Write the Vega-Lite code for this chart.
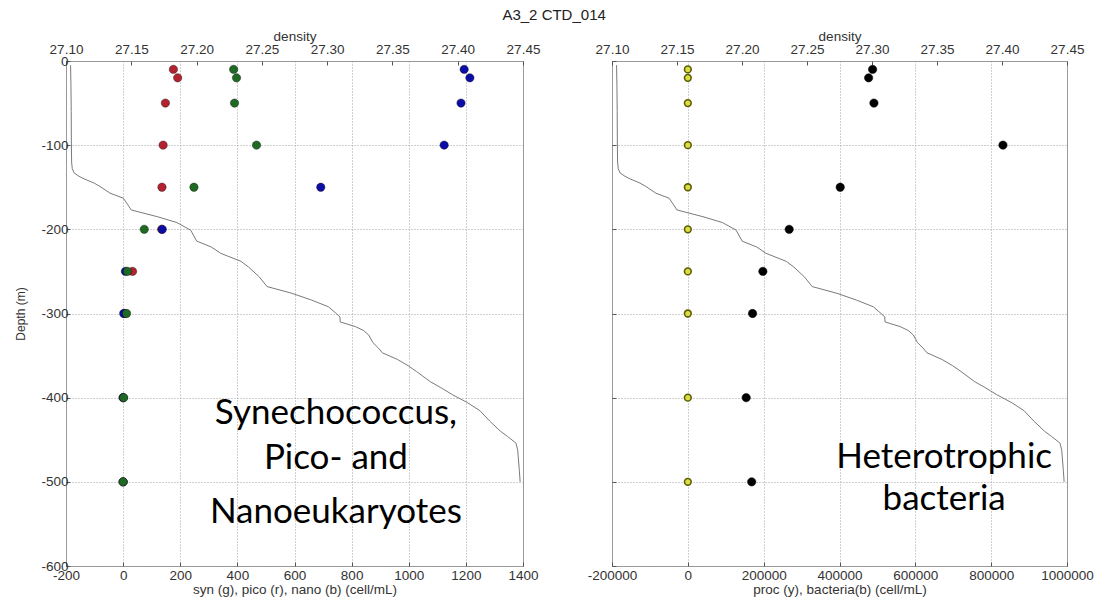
{
  "$schema": "https://vega.github.io/schema/vega-lite/v6.json",
  "background": "white",
  "padding": {"left": 14, "top": 7, "right": 5, "bottom": 5},
  "title": {"text": "A3_2 CTD_014", "font": "Liberation Sans", "fontSize": 15, "fontWeight": "normal", "color": "#222", "anchor": "middle", "offset": 6},
  "bounds": "flush",
  "spacing": 89,
  "resolve": {"scale": {"fill": "independent", "stroke": "independent", "size": "independent", "strokeWidth": "independent"}},
  "config": {
    "view": {"stroke": "#9a9a9a", "strokeWidth": 1},
    "axis": {
      "labelFont": "Liberation Sans", "labelFontSize": 13.5, "labelColor": "#333",
      "titleFont": "Liberation Sans", "titleFontSize": 13.5, "titleFontWeight": "normal", "titleColor": "#333",
      "domain": false, "gridColor": "#9a9a9a", "gridDash": [1, 2], "gridOpacity": 0.9,
      "tickColor": "#555", "tickSize": -4, "labelFlush": false, "labelOverlap": false
    },
    "text": {"font": "Lato"}
  },
  "datasets": {
    "density": [
      {"depth": -5, "density": 27.1035}, {"depth": -30, "density": 27.1038}, {"depth": -60, "density": 27.104},
      {"depth": -95, "density": 27.1041}, {"depth": -120, "density": 27.1043}, {"depth": -128, "density": 27.1048},
      {"depth": -133, "density": 27.1062}, {"depth": -137, "density": 27.110}, {"depth": -140, "density": 27.1138},
      {"depth": -145, "density": 27.1215}, {"depth": -149, "density": 27.126}, {"depth": -157, "density": 27.1337},
      {"depth": -163, "density": 27.1439}, {"depth": -170, "density": 27.147}, {"depth": -177, "density": 27.150},
      {"depth": -185, "density": 27.1700}, {"depth": -192, "density": 27.1850}, {"depth": -201, "density": 27.1955},
      {"depth": -214, "density": 27.2001}, {"depth": -221, "density": 27.2113}, {"depth": -228.5, "density": 27.2185},
      {"depth": -238, "density": 27.2340}, {"depth": -245, "density": 27.2400}, {"depth": -256.5, "density": 27.2480},
      {"depth": -268, "density": 27.2540}, {"depth": -276, "density": 27.2730}, {"depth": -284, "density": 27.2880},
      {"depth": -292, "density": 27.3010}, {"depth": -300, "density": 27.3070}, {"depth": -304, "density": 27.3098},
      {"depth": -310, "density": 27.3100}, {"depth": -315.5, "density": 27.3215}, {"depth": -320, "density": 27.3277},
      {"depth": -325.5, "density": 27.3318}, {"depth": -334.5, "density": 27.335}, {"depth": -341, "density": 27.3392},
      {"depth": -346.7, "density": 27.3423}, {"depth": -354.7, "density": 27.354}, {"depth": -362, "density": 27.362},
      {"depth": -369, "density": 27.3685}, {"depth": -381, "density": 27.379}, {"depth": -388, "density": 27.3870},
      {"depth": -396.5, "density": 27.3960}, {"depth": -405.5, "density": 27.4070}, {"depth": -415.5, "density": 27.4170},
      {"depth": -427.8, "density": 27.4245}, {"depth": -440, "density": 27.4328}, {"depth": -446, "density": 27.4381},
      {"depth": -454, "density": 27.4446}, {"depth": -462, "density": 27.4459}, {"depth": -486.5, "density": 27.4472},
      {"depth": -500, "density": 27.4478}
    ],
    "phyto": [
      {"group": "pico", "depth": -10, "count": 176}, {"group": "pico", "depth": -20, "count": 191},
      {"group": "pico", "depth": -50, "count": 148}, {"group": "pico", "depth": -100, "count": 140},
      {"group": "pico", "depth": -150, "count": 136}, {"group": "pico", "depth": -200, "count": 135},
      {"group": "pico", "depth": -250, "count": 33}, {"group": "pico", "depth": -300, "count": 5},
      {"group": "pico", "depth": -400, "count": 0}, {"group": "pico", "depth": -500, "count": 0},
      {"group": "nano", "depth": -10, "count": 1194}, {"group": "nano", "depth": -20, "count": 1214},
      {"group": "nano", "depth": -50, "count": 1183}, {"group": "nano", "depth": -100, "count": 1124},
      {"group": "nano", "depth": -150, "count": 692}, {"group": "nano", "depth": -200, "count": 137},
      {"group": "nano", "depth": -250, "count": 8}, {"group": "nano", "depth": -300, "count": 2},
      {"group": "nano", "depth": -400, "count": 0}, {"group": "nano", "depth": -500, "count": 0},
      {"group": "syn", "depth": -10, "count": 387}, {"group": "syn", "depth": -20, "count": 397},
      {"group": "syn", "depth": -50, "count": 390}, {"group": "syn", "depth": -100, "count": 467},
      {"group": "syn", "depth": -150, "count": 248}, {"group": "syn", "depth": -200, "count": 74},
      {"group": "syn", "depth": -250, "count": 15}, {"group": "syn", "depth": -300, "count": 12},
      {"group": "syn", "depth": -400, "count": 2}, {"group": "syn", "depth": -500, "count": 0}
    ],
    "bact": [
      {"group": "proc", "depth": -10, "count": 0}, {"group": "proc", "depth": -20, "count": 0},
      {"group": "proc", "depth": -50, "count": 0}, {"group": "proc", "depth": -100, "count": 0},
      {"group": "proc", "depth": -150, "count": 0}, {"group": "proc", "depth": -200, "count": 0},
      {"group": "proc", "depth": -250, "count": 0}, {"group": "proc", "depth": -300, "count": 0},
      {"group": "proc", "depth": -400, "count": 0}, {"group": "proc", "depth": -500, "count": 0},
      {"group": "bacteria", "depth": -10, "count": 487300}, {"group": "bacteria", "depth": -20, "count": 476800},
      {"group": "bacteria", "depth": -50, "count": 490800}, {"group": "bacteria", "depth": -100, "count": 831100},
      {"group": "bacteria", "depth": -150, "count": 401900}, {"group": "bacteria", "depth": -200, "count": 267300},
      {"group": "bacteria", "depth": -250, "count": 197900}, {"group": "bacteria", "depth": -300, "count": 170700},
      {"group": "bacteria", "depth": -400, "count": 153900}, {"group": "bacteria", "depth": -500, "count": 168400}
    ],
    "note_phyto": [
      {"label": "Synechococcus,", "count": 745, "depth": -431},
      {"label": "Pico- and", "count": 745, "depth": -485},
      {"label": "Nanoeukaryotes", "count": 745, "depth": -549}
    ],
    "note_bact": [
      {"label": "Heterotrophic", "count": 676000, "depth": -483},
      {"label": "bacteria", "count": 676000, "depth": -533}
    ]
  },
  "hconcat": [
    {
      "width": 457,
      "height": 505,
      "layer": [
        {
          "data": {"name": "density"},
          "mark": {"type": "line", "color": "#7a7a7a", "strokeWidth": 1},
          "encoding": {
            "x": {"field": "density", "type": "quantitative",
                  "scale": {"domain": [27.10, 27.45], "nice": false, "zero": false},
                  "axis": {"orient": "top", "title": "density", "format": ".2f", "grid": false,
                           "values": [27.10, 27.15, 27.20, 27.25, 27.30, 27.35, 27.40, 27.45],
                           "labelPadding": 9, "titlePadding": -1}},
            "y": {"field": "depth", "type": "quantitative",
                  "scale": {"domain": [-600, 0], "nice": false},
                  "axis": {"title": "Depth (m)", "values": [-600, -500, -400, -300, -200, -100, 0], "grid": true,
                           "labelExpr": "replace(datum.label, '\u2212', '-')", "labelPadding": 2, "titlePadding": 13, "titleFontSize": 12}},
            "order": {"field": "depth", "sort": "descending"}
          }
        },
        {
          "layer": [
            {
              "data": {"name": "phyto"},
              "mark": {"type": "point", "filled": true, "size": 70, "opacity": 1, "stroke": "#111", "strokeWidth": 0.6, "strokeOpacity": 0.7},
              "encoding": {
                "x": {"field": "count", "type": "quantitative",
                      "scale": {"domain": [-200, 1400], "nice": false, "zero": false},
                      "axis": {"orient": "bottom", "title": "syn (g), pico (r), nano (b) (cell/mL)", "grid": true,
                               "values": [-200, 0, 200, 400, 600, 800, 1000, 1200, 1400],
                               "labelExpr": "replace(datum.label, '\u2212', '-')", "format": "d",
                               "labelPadding": 6, "titlePadding": 1}},
                "y": {"field": "depth", "type": "quantitative", "scale": {"domain": [-600, 0], "nice": false}},
                "fill": {"field": "group", "type": "nominal", "legend": null,
                         "scale": {"domain": ["syn", "pico", "nano"], "range": ["#1e6a22", "#b3222e", "#0c0ca6"]}}
              }
            },
            {
              "data": {"name": "note_phyto"},
              "mark": {"type": "text", "fontSize": 35, "align": "center", "baseline": "alphabetic", "color": "#000"},
              "encoding": {
                "x": {"field": "count", "type": "quantitative"},
                "y": {"field": "depth", "type": "quantitative"},
                "text": {"field": "label"}
              }
            }
          ]
        }
      ],
      "resolve": {"scale": {"x": "independent"}}
    },
    {
      "width": 455,
      "height": 505,
      "layer": [
        {
          "data": {"name": "density"},
          "mark": {"type": "line", "color": "#7a7a7a", "strokeWidth": 1},
          "encoding": {
            "x": {"field": "density", "type": "quantitative",
                  "scale": {"domain": [27.10, 27.45], "nice": false, "zero": false},
                  "axis": {"orient": "top", "title": "density", "format": ".2f", "grid": false,
                           "values": [27.10, 27.15, 27.20, 27.25, 27.30, 27.35, 27.40, 27.45],
                           "labelPadding": 9, "titlePadding": -1}},
            "y": {"field": "depth", "type": "quantitative",
                  "scale": {"domain": [-600, 0], "nice": false},
                  "axis": {"title": null, "labels": false, "grid": true, "values": [-600, -500, -400, -300, -200, -100, 0]}},
            "order": {"field": "depth", "sort": "descending"}
          }
        },
        {
          "layer": [
            {
              "data": {"name": "bact"},
              "mark": {"type": "point", "filled": true, "opacity": 1},
              "encoding": {
                "x": {"field": "count", "type": "quantitative",
                      "scale": {"domain": [-200000, 1000000], "nice": false, "zero": false},
                      "axis": {"orient": "bottom", "title": "proc (y), bacteria(b)  (cell/mL)", "grid": true,
                               "values": [-200000, 0, 200000, 400000, 600000, 800000, 1000000],
                               "labelExpr": "replace(datum.label, '\u2212', '-')", "format": "d",
                               "labelPadding": 6, "titlePadding": 1}},
                "y": {"field": "depth", "type": "quantitative", "scale": {"domain": [-600, 0], "nice": false}},
                "fill": {"field": "group", "type": "nominal", "legend": null,
                         "scale": {"domain": ["proc", "bacteria"], "range": ["#dcdc4a", "#000000"]}},
                "stroke": {"field": "group", "type": "nominal", "legend": null,
                           "scale": {"domain": ["proc", "bacteria"], "range": ["#5e5e00", "#000000"]}},
                "size": {"field": "group", "type": "nominal", "legend": null,
                         "scale": {"domain": ["proc", "bacteria"], "range": [45, 70]}},
                "strokeWidth": {"field": "group", "type": "nominal", "legend": null,
                                "scale": {"domain": ["proc", "bacteria"], "range": [1.6, 0.5]}}
              }
            },
            {
              "data": {"name": "note_bact"},
              "mark": {"type": "text", "fontSize": 35, "align": "center", "baseline": "alphabetic", "color": "#000"},
              "encoding": {
                "x": {"field": "count", "type": "quantitative"},
                "y": {"field": "depth", "type": "quantitative"},
                "text": {"field": "label"}
              }
            }
          ]
        }
      ],
      "resolve": {"scale": {"x": "independent"}}
    }
  ]
}
